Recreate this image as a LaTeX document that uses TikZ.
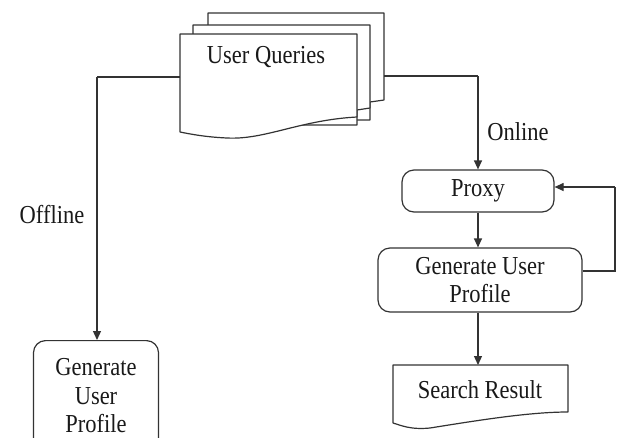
\documentclass[tikz,border=0pt]{standalone}
\usepackage{fontspec}
\setmainfont{Liberation Serif}
\usetikzlibrary{arrows.meta}
\newcommand{\tall}[1]{\scalebox{1}[1.15]{#1}}
\begin{document}
\begin{tikzpicture}[x=1pt,y=-1pt,
  line width=1.2pt, draw=black!80,
  every node/.style={font=\fontsize{22.5}{28.5}\selectfont, text=black!90},
  rbox/.style={draw, rounded corners=12pt, align=center, inner sep=0pt},
  doc/.style={draw, fill=white, line join=round},
  conn/.style={draw, -{Triangle[length=9pt,width=8pt]}},
  plain/.style={draw}]
\useasboundingbox (0,0) rectangle (624,437);
% User Queries multidocument
\path[doc] (208,13) -- (384,13) -- (384,100) -- (370,102) -- (370,120) -- (208,120) -- cycle;
\path[doc] (193,25) -- (370,25) -- (370,108) -- (357,110) -- (357,125) -- (193,125) -- cycle;
\path[doc] (180,34) -- (357,34) -- (357,117)
  .. controls (300,120) and (265,140) .. (227,138)
  .. controls (205,137) and (190,134) .. (180,132) -- cycle;
\node (uq) at (266,57) {\tall{User Queries}};
\coordinate (uqL) at (180,77);
\coordinate (uqR) at (384,76);
% Proxy and right flow
\node[rbox, minimum width=152pt, minimum height=42pt] (proxy) at (478,191) {\tall{Proxy}};
\node[rbox, minimum width=204pt, minimum height=64pt] (genR) at (480,280) {\tall{Generate User}\\\tall{Profile}};
% Search Result document
\path[doc] (393,365) -- (568,365) -- (568,412)
  .. controls (530,412) and (480,420) .. (430,428)
  .. controls (410,430) and (400,425) .. (393,423) -- cycle;
\coordinate (srT) at (478,365);
\node (sr) at (480,390) {\tall{Search Result}};
% left generate box
\node[rbox, minimum width=125pt, minimum height=110pt, anchor=north] (genL) at (96,340) {\tall{Generate}\\\tall{User}\\\tall{Profile}};
% connectors
\coordinate (lc) at (97,77);
\coordinate (rc) at (478,76);
\draw[plain] (uqL) -- (lc);
\draw[conn] (lc) -- (genL.north -| lc);
\draw[plain] (uqR) -- (rc);
\draw[conn] (rc) -- (proxy.north -| rc);
\draw[conn] (proxy.south -| rc) -- (genR.north -| rc);
\draw[conn] (genR.south -| rc) -- (srT);
\coordinate (fb1) at (615,271);
\coordinate (fb2) at (615,187);
\draw[plain] (genR.east |- fb1) -- (fb1) -- (fb2);
\draw[conn] (fb2) -- (proxy.east |- fb2);
% labels
\node (online) at (518,132) {\tall{Online}};
\node (offline) at (52,215) {\tall{Offline}};
\end{tikzpicture}
\end{document}
